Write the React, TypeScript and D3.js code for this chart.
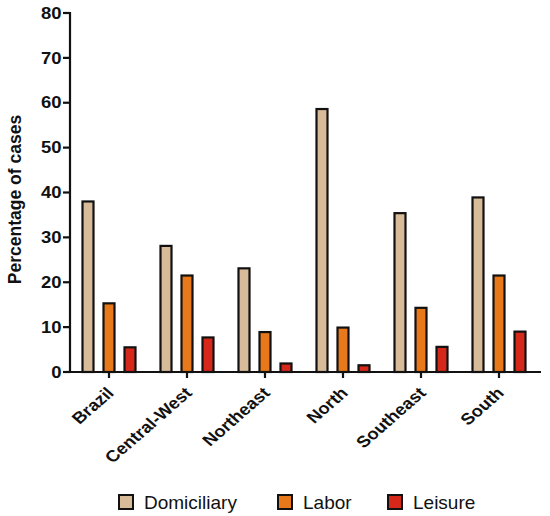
import { useEffect } from "react";
import * as d3 from "d3";

// regions on the x axis
const regions = ["Brazil", "Central-West", "Northeast", "North", "Southeast", "South"];
const seriesNames = ["Domiciliary", "Labor", "Leisure"];

// percentage of cases per region, one array per series
const domiciliary = [38.0, 28.1, 23.1, 58.6, 35.4, 38.9];
const labor = [15.3, 21.5, 8.9, 9.9, 14.3, 21.5];
const leisure = [5.5, 7.7, 1.9, 1.5, 5.6, 9.0];

const yTicks = [0, 10, 20, 30, 40, 50, 60, 70, 80];

const colors = ["#D8BB98", "#E8791B", "#D5281A"];

const W = 550;
const H = 516;
const FONT = "'Liberation Sans', Arial, sans-serif";

export default function App() {
  useEffect(() => {
    document.body.style.margin = "0";
  }, []);

  const series = [domiciliary, labor, leisure];

  const x0 = d3.scaleBand<string>().domain(regions).range([70, 538]);
  const x1 = d3.scalePoint<string>().domain(seriesNames).range([-21, 21]);
  const y = d3.scaleLinear().domain([0, 80]).range([372, 13]);
  const barW = 11;

  // legend layout
  const legendX = [118, 277, 387];
  const legendY = 494;

  return (
    <svg width={W} height={H} style={{ display: "block", background: "#fff" }} fontFamily={FONT}>
      {/* bars */}
      {regions.map((r, i) => (
        <g key={r} transform={`translate(${x0(r)! + x0.bandwidth() / 2},0)`}>
          {seriesNames.map((s, j) => (
            <rect
              key={s}
              x={x1(s)! - barW / 2}
              y={y(series[j][i])}
              width={barW}
              height={y(0) - y(series[j][i])}
              fill={colors[j]}
              stroke="#111"
              strokeWidth={2.2}
            />
          ))}
        </g>
      ))}

      {/* y axis */}
      <line x1={70} x2={70} y1={y(80) - 1} y2={y(0) + 1} stroke="#111" strokeWidth={2.2} />
      {yTicks.map((t) => (
        <g key={t} transform={`translate(0,${y(t)})`}>
          <line x1={63} x2={70} stroke="#111" strokeWidth={2.2} />
          <text
            transform="translate(61.5,0) scale(1,0.85)"
            dy="0.36em"
            textAnchor="end"
            fontSize={18.5}
            fontWeight="bold"
            fill="#111"
          >
            {t}
          </text>
        </g>
      ))}
      <text
        transform={`translate(21,${(y(0) + y(80)) / 2 + 7}) rotate(-90)`}
        textAnchor="middle"
        fontSize={17.5}
        fontWeight="bold"
        fill="#111"
      >
        Percentage of cases
      </text>

      {/* x axis */}
      <line x1={69} x2={541} y1={y(0)} y2={y(0)} stroke="#111" strokeWidth={2.2} />
      {regions.map((r) => {
        const cx = x0(r)! + x0.bandwidth() / 2;
        return (
          <g key={r} transform={`translate(${cx},${y(0)})`}>
            <line y1={0} y2={6} stroke="#111" strokeWidth={2.2} />
            <text
              transform="translate(6,22) scale(1,0.87) rotate(-45)"
              textAnchor="end"
              fontSize={18.5}
              fontWeight="bold"
              fill="#111"
            >
              {r}
            </text>
          </g>
        );
      })}

      {/* legend */}
      {seriesNames.map((s, j) => (
        <g key={s} transform={`translate(${legendX[j]},${legendY})`}>
          <rect x={1} y={1} width={14} height={14} fill={colors[j]} stroke="#111" strokeWidth={2} />
          <text x={26} y={15} fontSize={19} fill="#111">
            {s}
          </text>
        </g>
      ))}
    </svg>
  );
}
